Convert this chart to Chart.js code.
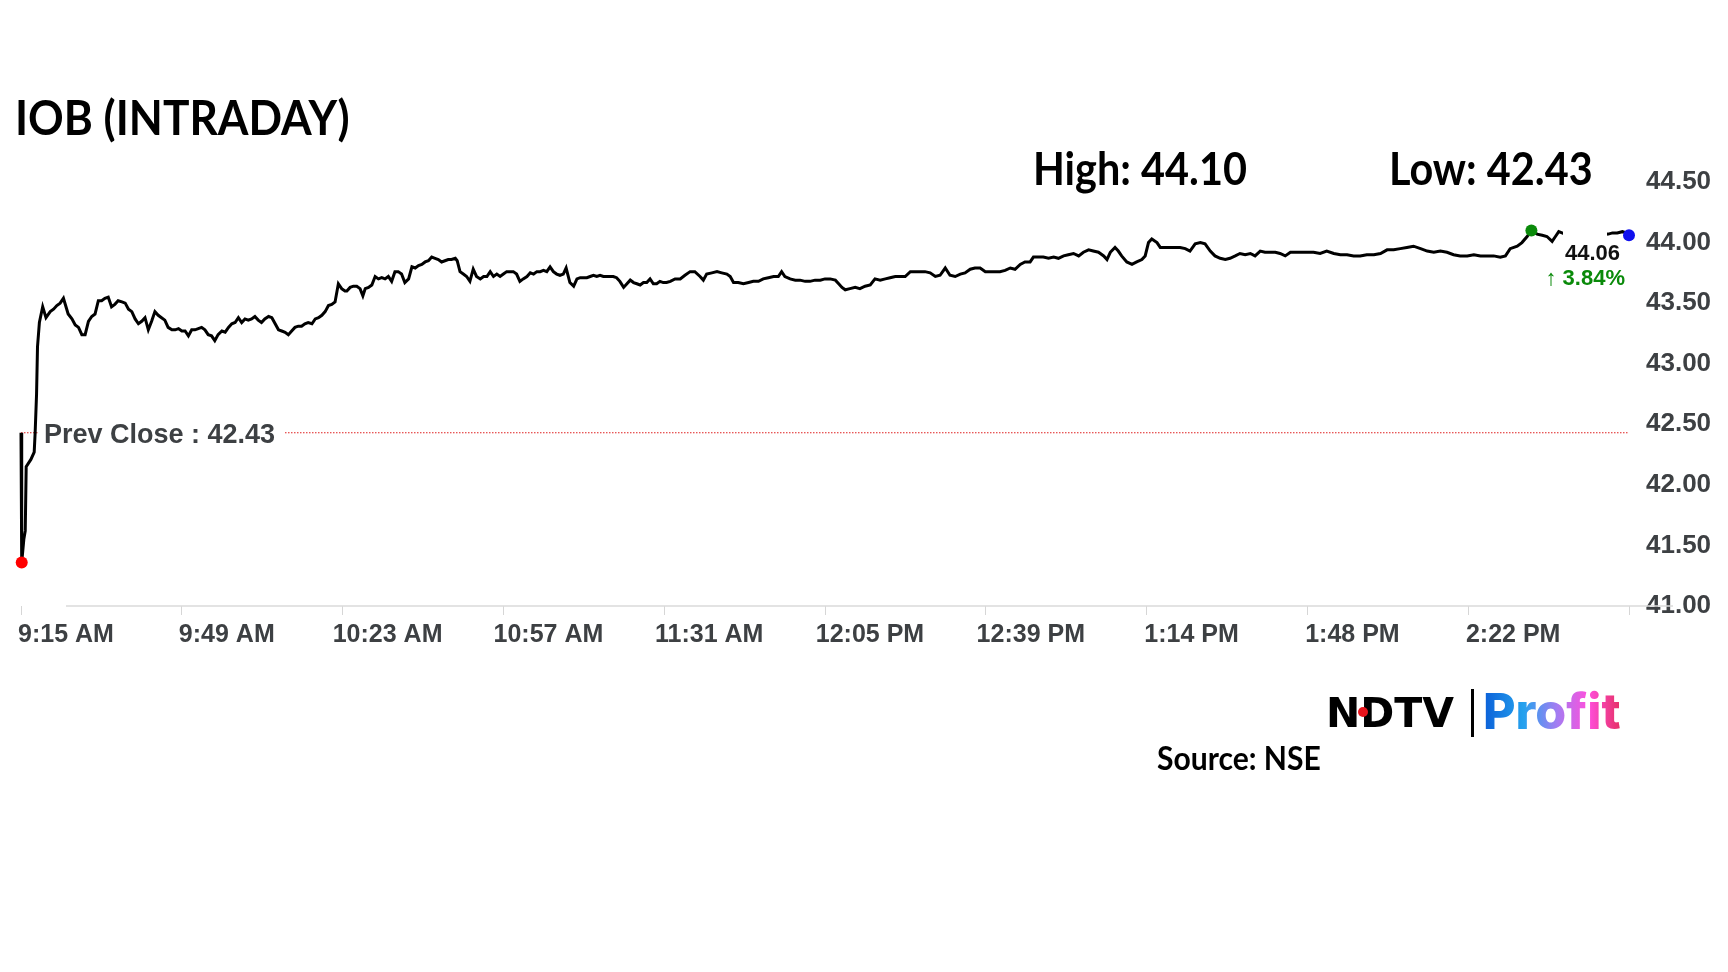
<!DOCTYPE html>
<html lang="en">
<head>
  <meta charset="UTF-8" />
  <title>IOB (INTRADAY)</title>
  <script src="https://cdn.jsdelivr.net/npm/chart.js"></script>
  <style>
    html, body { margin: 0; padding: 0; background: #fff; }
    #wrap { width: 1728px; height: 972px; }
  </style>
</head>
<body>
  <div id="wrap"><canvas id="iobChart" width="1728" height="972"></canvas></div>

  <script>
    // minutes after 9:15 AM
    const times = [
      0, 0.15, 0.6, 0.9, 1.1, 2.1, 2.8, 3.0, 3.3, 3.5, 3.9, 4.6,
      5.3, 6.2, 6.9, 7.6, 8.3, 9.0, 10.0, 10.8, 11.5, 12.2, 12.9, 13.6, 14.3, 15.0, 15.7, 16.4, 17.1, 17.8, 18.5, 19.2, 19.9,
      20.6, 21.4, 22.1, 22.8, 23.5, 24.2, 24.9, 25.6, 26.3, 27.0, 27.7, 28.4, 29.1, 29.8, 30.5, 31.2, 32.0, 32.7, 33.4, 34.1,
      34.8, 35.5, 36.2, 36.9, 37.6, 38.3, 39.0, 39.7, 40.4, 41.1, 41.8, 42.6, 43.3, 44.0, 44.7, 45.4, 46.1, 46.8, 47.5, 48.2,
      48.9, 49.6, 50.3, 51.0, 51.7, 52.5, 53.2, 53.9, 54.6, 55.3, 56.0, 56.7, 57.4, 58.1, 58.8, 59.5, 60.2, 60.9, 61.7, 62.4,
      63.1, 63.8, 64.5, 65.2, 65.9, 66.6, 67.3, 68.0, 68.7,
      69.1, 69.8, 70.5, 71.2, 71.9, 72.5, 73.0, 73.7, 74.4, 75.1, 75.8, 76.5, 77.2, 77.9, 78.6, 79.3, 80.0, 80.7, 81.4, 82.2,
      82.9, 83.6, 84.3, 85.0, 85.7, 86.4, 87.1, 87.8, 88.5, 89.2, 89.9, 90.6, 91.3, 92.1, 92.5, 93.1, 93.8, 94.5, 95.2, 95.9,
      96.6, 97.4, 98.1, 98.8, 99.5, 100.2, 100.9, 101.6, 102.3, 103.0, 103.7, 104.4, 105.1, 105.8, 106.5, 107.3, 108.0, 108.7,
      109.4, 110.1, 110.8, 111.5, 112.2, 112.9, 113.6, 114.3, 115.0, 115.6, 116.4, 117.2, 117.9, 118.6, 119.3, 120.0, 120.7,
      121.4, 122.1, 122.8, 123.5, 124.2, 124.9, 125.6, 126.3, 127.0, 127.8, 128.5, 129.2, 129.9, 130.6, 131.3, 132.0, 132.7,
      133.4, 134.1, 134.8, 135.5, 136.2, 136.9,
      137.7, 138.7, 139.8, 140.8, 141.9, 142.9, 144.0, 144.7, 145.4, 146.5, 147.6, 148.6, 149.7, 150.4, 151.1, 152.1, 153.2,
      154.3, 155.3, 156.4, 157.4, 158.5, 159.6, 160.6, 161.3, 162.0, 163.1, 164.2, 165.2, 166.3, 167.3, 168.4, 169.5, 170.5,
      171.6, 172.7, 173.4, 174.1, 174.8, 175.8, 176.9, 177.9, 179.0, 180.1, 181.1, 182.2, 183.3, 184.3, 185.4, 186.4, 187.5,
      188.6, 189.6, 190.7, 191.7, 192.8, 193.9, 194.9, 196.0, 197.0, 198.1, 199.2, 200.2, 201.3, 202.3, 203.4, 204.5,
      205.5, 206.6, 207.6, 208.7, 209.8, 210.8, 211.9, 212.9, 214.0, 214.7, 215.8, 216.8, 217.9, 219.0, 220.0, 221.1, 222.1,
      223.2, 224.3, 225.3, 226.4, 227.4, 228.5, 229.6, 230.3, 231.0, 232.0, 232.7, 233.4, 234.5, 235.6, 236.6, 237.7, 238.4,
      239.1, 239.8, 240.9, 241.6, 242.6, 243.7, 244.8, 245.8, 246.9, 247.9, 249.0, 250.1, 251.1, 252.2, 253.2, 254.3, 255.4,
      256.4, 257.5, 258.5, 259.6, 260.7, 261.7, 262.8, 263.8, 264.9, 266.0, 267.0, 268.1, 269.2, 270.2, 271.3, 272.3,
      274.1, 275.5, 276.9, 278.4, 279.8, 281.2, 282.6, 284.0, 285.4, 286.9, 288.3, 289.7, 291.1, 292.5, 293.9, 295.3, 296.8,
      298.2, 299.6, 301.0, 302.4, 303.8, 305.2, 306.7, 308.1, 309.5, 310.9, 312.3, 313.7, 314.8, 315.8, 317.3, 318.3, 319.4,
      320.3, 321.5, 322.6, 323.6, 324.7, 325.4, 326.1, 326.8,
      328.0, 330.0, 332.0, 334.0, 336.6, 337.5, 338.5, 339.6, 340.4, 341.0
    ];

    const prices = [
      42.43, 41.36, 41.55, 41.62, 42.15, 42.21, 42.27, 42.43, 42.75, 43.14, 43.34, 43.47,
      43.38, 43.43, 43.45, 43.48, 43.50, 43.54, 43.41, 43.37, 43.32, 43.30, 43.24, 43.24, 43.35, 43.39, 43.41, 43.52, 43.52, 43.54, 43.55, 43.47, 43.49,
      43.52, 43.51, 43.50, 43.45, 43.43, 43.37, 43.33, 43.35, 43.38, 43.28, 43.35, 43.43, 43.40, 43.38, 43.36, 43.30, 43.28, 43.28, 43.29, 43.27,
      43.27, 43.23, 43.28, 43.28, 43.29, 43.30, 43.28, 43.24, 43.23, 43.19, 43.24, 43.27, 43.26, 43.30, 43.33, 43.34, 43.38, 43.34, 43.37, 43.36,
      43.37, 43.39, 43.36, 43.34, 43.37, 43.39, 43.38, 43.33, 43.28, 43.27, 43.26, 43.24, 43.27, 43.30, 43.31, 43.31, 43.33, 43.34, 43.33, 43.37,
      43.38, 43.40, 43.43, 43.48, 43.49, 43.51, 43.66, 43.62, 43.60,
      43.60, 43.63, 43.64, 43.64, 43.62, 43.56, 43.62, 43.63, 43.65, 43.72, 43.70, 43.71, 43.70, 43.72, 43.68, 43.76, 43.76, 43.74, 43.67, 43.70,
      43.80, 43.79, 43.81, 43.82, 43.84, 43.85, 43.88, 43.87, 43.86, 43.84, 43.85, 43.86, 43.86, 43.87, 43.85, 43.76, 43.74, 43.72, 43.68, 43.78,
      43.72, 43.70, 43.72, 43.72, 43.76, 43.72, 43.74, 43.72, 43.74, 43.76, 43.76, 43.76, 43.74, 43.68, 43.70, 43.72, 43.75, 43.74,
      43.76, 43.76, 43.77, 43.76, 43.80, 43.76, 43.74, 43.73, 43.74, 43.79, 43.67, 43.64, 43.70, 43.71, 43.71, 43.71, 43.72,
      43.73, 43.72, 43.73, 43.72, 43.72, 43.72, 43.72, 43.71, 43.68, 43.63, 43.66, 43.69, 43.67, 43.66, 43.65, 43.67, 43.67,
      43.70, 43.66, 43.66, 43.68, 43.67, 43.67,
      43.68, 43.70, 43.70, 43.73, 43.76, 43.76, 43.72, 43.69, 43.74, 43.75, 43.76, 43.75, 43.74, 43.72, 43.67, 43.67, 43.66,
      43.67, 43.68, 43.68, 43.70, 43.71, 43.72, 43.72, 43.76, 43.72, 43.70, 43.69, 43.69, 43.68, 43.68, 43.69, 43.69, 43.70,
      43.70, 43.69, 43.66, 43.63, 43.61, 43.62, 43.63, 43.62, 43.64, 43.65, 43.70, 43.69, 43.70, 43.71, 43.72, 43.72, 43.72,
      43.76, 43.76, 43.76, 43.76, 43.75, 43.72, 43.73, 43.79, 43.73, 43.72, 43.74, 43.75, 43.78, 43.79, 43.79, 43.76,
      43.76, 43.76, 43.76, 43.77, 43.79, 43.78, 43.82, 43.84, 43.84, 43.88, 43.88, 43.88, 43.87, 43.88, 43.87, 43.89, 43.90,
      43.91, 43.89, 43.92, 43.94, 43.93, 43.92, 43.89, 43.86, 43.92, 43.96, 43.93, 43.89, 43.84, 43.82, 43.84, 43.86, 43.89,
      44.00, 44.03, 44.00, 43.96, 43.96, 43.96, 43.96, 43.96, 43.95, 43.93, 43.99, 44.00, 43.99, 43.93, 43.89, 43.87, 43.86,
      43.87, 43.89, 43.91, 43.90, 43.91, 43.89, 43.93, 43.92, 43.92, 43.92, 43.91, 43.89, 43.92, 43.92, 43.92, 43.92,
      43.92, 43.91, 43.93, 43.91, 43.90, 43.90, 43.89, 43.89, 43.90, 43.90, 43.91, 43.94, 43.94, 43.95, 43.96, 43.97, 43.95,
      43.93, 43.92, 43.93, 43.92, 43.90, 43.89, 43.89, 43.90, 43.89, 43.89, 43.89, 43.88, 43.89, 43.95, 43.97, 44.00, 44.05,
      44.10, 44.07, 44.06, 44.05, 44.01, 44.05, 44.09, 44.08,
      44.06, 44.05, 44.07, 44.06, 44.07, 44.08, 44.08, 44.09, 44.08, 44.06
    ];

    const tickLabels = ["9:15 AM", "9:49 AM", "10:23 AM", "10:57 AM", "11:31 AM", "12:05 PM",
                        "12:39 PM", "1:14 PM", "1:48 PM", "2:22 PM", ""];
    const tickStep = 34.1;

    const prevClose = 42.43;
    const lastPrice = 44.06;
    const changePct = 3.84;
    const dayHigh = 44.10;
    const dayLow = 42.43;

    const axisFont = '"Liberation Sans", Arial, sans-serif';
    const labelGray = "#3d4043";

    const iLow = prices.indexOf(Math.min(...prices));
    const iHigh = prices.indexOf(Math.max(...prices));
    const iLast = prices.length - 1;
    const dotColor = i => i === iLow ? "#ff0000" : i === iHigh ? "#0a8a0a" : "#1010ee";

    // Lato is a bit wider than the original's Calibri, so squeeze it horizontally
    function narrowText(ctx, text, x, y, squeeze) {
      ctx.save();
      ctx.translate(x, y);
      ctx.scale(squeeze, 1);
      ctx.fillText(text, 0, 0);
      ctx.restore();
    }

    const decorations = {
      id: "decorations",
      beforeDatasetsDraw(chart) {
        const { ctx, chartArea, scales } = chart;
        const yBase = scales.y.getPixelForValue(scales.y.min);
        ctx.save();
        ctx.strokeStyle = "#dadada";
        ctx.lineWidth = 1.5;
        ctx.beginPath();
        ctx.moveTo(chartArea.left + 45, yBase);
        ctx.lineTo(chartArea.right + 44, yBase);
        ctx.stroke();
        ctx.restore();
      },
      afterDatasetsDraw(chart) {
        const { ctx, scales } = chart;
        ctx.save();

        // prev close label
        const yPrev = scales.y.getPixelForValue(prevClose);
        ctx.fillStyle = "#fff";
        ctx.fillRect(38, yPrev - 16, 246, 30);
        ctx.font = "bold 27px " + axisFont;
        ctx.fillStyle = labelGray;
        ctx.textAlign = "left";
        ctx.textBaseline = "alphabetic";
        ctx.fillText("Prev Close : " + prevClose.toFixed(2), 44, yPrev + 10);

        // last price label
        const xl = scales.x.getPixelForValue(times[iLast]);
        const yl = scales.y.getPixelForValue(lastPrice);
        ctx.fillStyle = "#fff";
        ctx.fillRect(xl - 66, yl - 14, 44, 26);
        ctx.textAlign = "right";
        ctx.font = "bold 22px " + axisFont;
        ctx.fillStyle = "#111";
        ctx.fillText(lastPrice.toFixed(2), xl - 9, yl + 25);
        ctx.fillStyle = "#0a8a0a";
        ctx.fillText("\u2191 " + changePct.toFixed(2) + "%", xl - 4, yl + 50);
        ctx.restore();
      },
      afterDraw(chart) {
        const { ctx } = chart;
        ctx.save();
        ctx.textAlign = "left";
        ctx.textBaseline = "alphabetic";
        ctx.fillStyle = "#000";
        ctx.font = "bold 47px Lato";
        narrowText(ctx, "IOB (INTRADAY)", 15, 135, 0.94);
        ctx.font = "bold 46px Lato";
        narrowText(ctx, "High: " + dayHigh.toFixed(2), 1033, 185, 0.9);
        narrowText(ctx, "Low: " + dayLow.toFixed(2), 1389, 185, 0.9);

        // logo
        ctx.font = 'bold 41px "DejaVu Sans"';
        ctx.fillText("NDTV", 1326, 727);
        ctx.fillStyle = "#e8141c";
        ctx.beginPath();
        ctx.arc(1363, 712, 5, 0, Math.PI * 2);
        ctx.fill();
        ctx.fillStyle = "#000";
        ctx.fillRect(1471, 689, 3, 48);
        const grad = ctx.createLinearGradient(1483, 0, 1618, 0);
        grad.addColorStop(0, "#0b5fd8");
        grad.addColorStop(0.3, "#25a2ee");
        grad.addColorStop(0.55, "#a47cf2");
        grad.addColorStop(0.78, "#ff4fdc");
        grad.addColorStop(1, "#e8326e");
        ctx.fillStyle = grad;
        ctx.font = "800 50px Inter";
        ctx.fillText("Profit", 1483, 729);

        ctx.fillStyle = "#000";
        ctx.font = "bold 32px Lato";
        narrowText(ctx, "Source: NSE", 1157, 770, 0.94);
        ctx.restore();
      }
    };

    const ctx = document.getElementById("iobChart").getContext("2d");
    new Chart(ctx, {
      type: "line",
      data: {
        datasets: [
          {
            label: "IOB",
            data: times.map((t, i) => ({ x: t, y: prices[i] })),
            borderColor: "#000",
            borderWidth: 3,
            tension: 0,
            clip: false,
            pointRadius: c => (c.dataIndex === iLow || c.dataIndex === iHigh || c.dataIndex === iLast) ? 6 : 0,
            pointBackgroundColor: c => dotColor(c.dataIndex),
            pointBorderWidth: 0,
            pointHoverRadius: 0
          },
          {
            label: "Prev Close",
            data: [{ x: 0, y: prevClose }, { x: tickStep * (tickLabels.length - 1), y: prevClose }],
            borderColor: "#e02020",
            borderWidth: 1.2,
            borderDash: [1.5, 1.5],
            pointRadius: 0
          }
        ]
      },
      options: {
        responsive: false,
        animation: false,
        layout: { padding: { top: 182, left: 21, right: 0, bottom: 0 } },
        plugins: { legend: { display: false }, tooltip: { enabled: false } },
        scales: {
          x: {
            type: "linear",
            min: 0,
            max: tickStep * (tickLabels.length - 1),
            afterBuildTicks: scale => {
              scale.ticks = tickLabels.map((l, i) => ({ value: i * tickStep }));
            },
            afterFit: scale => {
              scale.height = 366;
              scale.paddingLeft = 0;
              scale.paddingRight = 0;
            },
            grid: { display: true, drawOnChartArea: false, drawTicks: true, tickLength: 9, color: "#d6d6d6" },
            border: { display: false },
            ticks: {
              autoSkip: false,
              maxRotation: 0,
              align: "center",
              labelOffset: 45,
              padding: 5,
              color: labelGray,
              font: { family: axisFont, size: 25, weight: "bold" },
              callback: (v, i) => tickLabels[i]
            }
          },
          y: {
            position: "right",
            min: 41,
            max: 44.5,
            afterFit: scale => { scale.width = 99; },
            grid: { display: false },
            border: { display: false },
            ticks: {
              stepSize: 0.5,
              padding: 9,
              color: labelGray,
              font: { family: axisFont, size: 26, weight: "bold" },
              callback: v => v.toFixed(2)
            }
          }
        }
      },
      plugins: [decorations]
    });
  </script>
</body>
</html>
